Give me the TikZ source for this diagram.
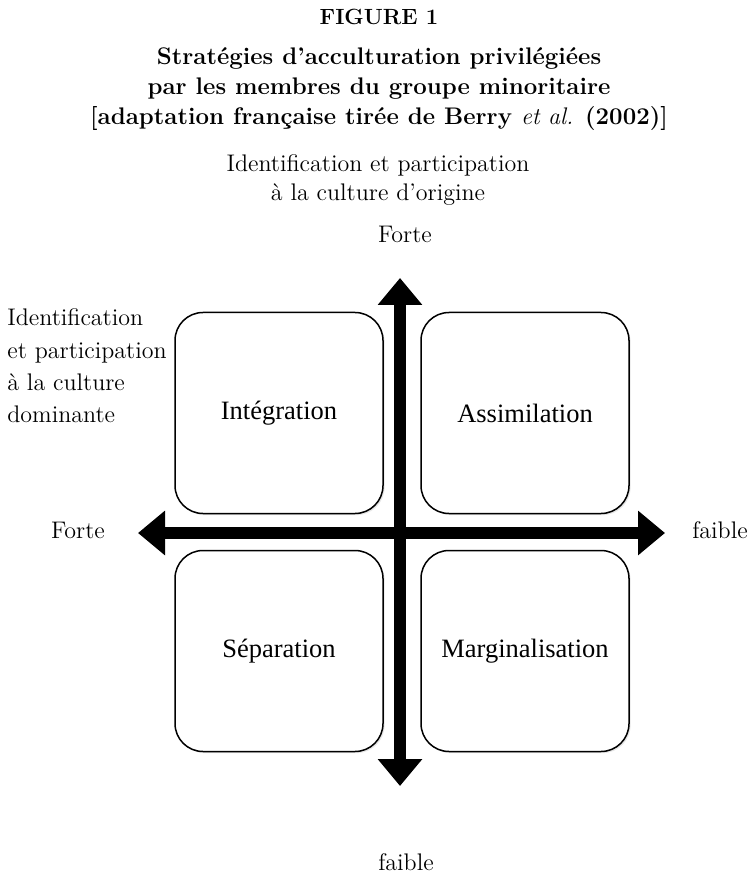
\documentclass[tikz,border=0pt]{standalone}
\usepackage{fontspec}
\newfontfamily\boxfont{Liberation Serif}
\usepackage{tikz}
\usetikzlibrary{arrows.meta,shadows}

\begin{document}
\begin{tikzpicture}[x=0.5pt, y=-0.5pt,
  txt/.style = {font=\fontsize{12}{16}\selectfont, inner sep=0pt},
  ttl/.style = {font=\fontsize{12}{15}\selectfont\bfseries, inner sep=0pt, anchor=base},
  box/.style = {draw, line width=0.75pt, rounded corners=14pt, minimum width=104pt, minimum height=100.5pt,
    font=\boxfont\fontsize{13.25}{15}\selectfont, fill=white,
    drop shadow={opacity=0.2, shadow xshift=0.8pt, shadow yshift=-0.8pt}},
  axis/.style = {line width=6pt, {Triangle[length=13.5pt,width=21.5pt]}-{Triangle[length=13.5pt,width=21.5pt]}}]
  \useasboundingbox (0,0) rectangle (750,876);
  % titre
  \node[ttl, font=\fontsize{11}{15}\selectfont\bfseries] (fig) at (379,25) {FIGURE 1};
  \node[ttl] (t1) at (379,65) {Stratégies d’acculturation privilégiées};
  \node[ttl] (t2) at (379,95) {par les membres du groupe minoritaire};
  \node[ttl] (t3) at (379,125) {[adaptation française tirée de Berry \textmd{\textit{et al.}} (2002)]};
  % axe vertical
  \node[txt, anchor=base] (orig1) at (378,172) {Identification et participation};
  \node[txt, anchor=base] (orig2) at (378,201) {à la culture d’origine};
  \node[txt, anchor=base] (nforte) at (405,243) {Forte};
  \node[txt, anchor=base] (sfaible) at (406,870) {faible};
  % axe horizontal
  \node[txt, anchor=base west] (dom1) at (7,326) {Identification};
  \node[txt, anchor=base west] (dom2) at (7,358) {et participation};
  \node[txt, anchor=base west] (dom3) at (7,390) {à la culture};
  \node[txt, anchor=base west] (dom4) at (7,422) {dominante};
  \node[txt, anchor=base] (wforte) at (78,538) {Forte};
  \node[txt, anchor=base] (efaible) at (720,538) {faible};
  % quadrants
  \node[box] (int) at (279,413) {Intégration};
  \node[box] (ass) at (525,413) {Assimilation};
  \node[box] (sep) at (279,651) {Séparation};
  \node[box] (marg) at (525,651) {Marginalisation};
  % fleches
  \coordinate (n) at (400,278);
  \coordinate (s) at (400,786);
  \coordinate (w) at (138,533);
  \coordinate (e) at (665,533);
  \draw[axis] (w) -- (e);
  \draw[axis] (s) -- (n);
\end{tikzpicture}
\end{document}
